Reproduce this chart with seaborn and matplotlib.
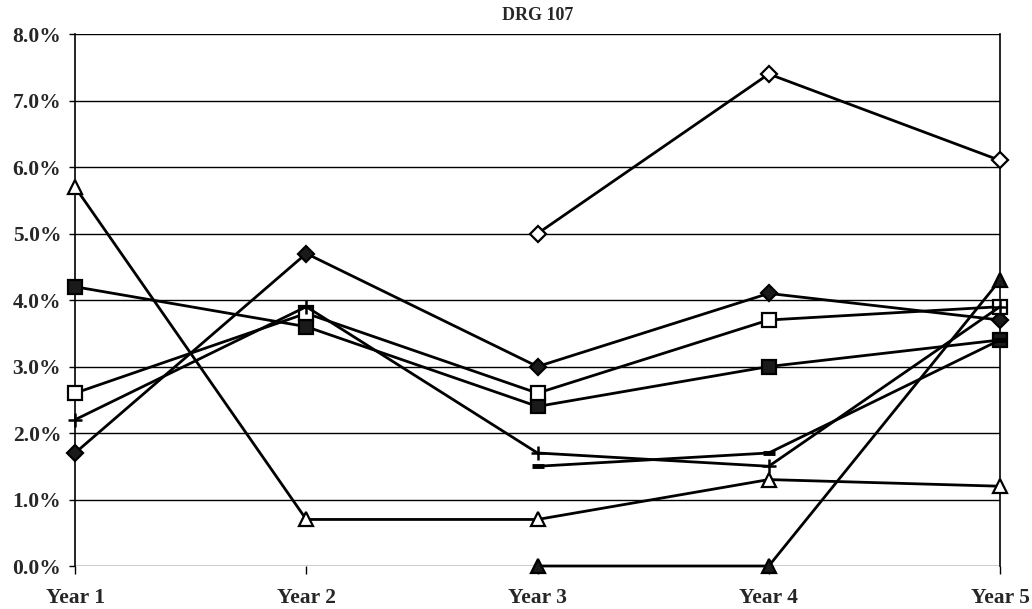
import numpy as np
import pandas as pd
import matplotlib
matplotlib.use("Agg")
import matplotlib.pyplot as plt
from matplotlib.ticker import PercentFormatter
import seaborn as sns

years = ["Year 1", "Year 2", "Year 3", "Year 4", "Year 5"]

filled_diamond = [1.7, 4.7, 3.0, 4.1, 3.7]
open_diamond = [np.nan, np.nan, 5.0, 7.4, 6.1]
filled_square = [4.2, 3.6, 2.4, 3.0, 3.4]
open_square = [2.6, 3.8, 2.6, 3.7, 3.9]
plus_series = [2.2, 3.9, 1.7, 1.5, 3.9]
dash_series = [np.nan, np.nan, 1.5, 1.7, 3.4]
open_triangle = [5.7, 0.7, 0.7, 1.3, 1.2]
filled_triangle = [np.nan, np.nan, 0.0, 0.0, 4.3]

# (values, marker, face colour, marker size, marker edge width)
series = [
    (filled_diamond, "D", "#1a1a1a", 8, 1.6),
    (open_diamond, "D", "white", 8, 1.6),
    (filled_square, "s", "#1a1a1a", 10, 1.6),
    (open_square, "s", "white", 10, 1.6),
    (plus_series, "+", "#1a1a1a", 10, 1.8),
    (dash_series, "_", "#1a1a1a", 9, 3.5),
    (open_triangle, "^", "white", 10, 1.6),
    (filled_triangle, "^", "#1a1a1a", 10, 1.6),
]

sns.set_style("white")
plt.rcParams["font.family"] = ["Liberation Serif", "DejaVu Serif"]

fig = plt.figure(figsize=(10.32, 6.09), dpi=100)
ax = fig.add_axes([0.0727, 0.0706, 0.8963, 0.8734])

for vals, marker, face, size, mew in series:
    df = pd.DataFrame({"year": years, "rate": vals}).dropna()
    sns.lineplot(data=df, x="year", y="rate", ax=ax, color="black",
                 linewidth=2.0, marker=marker, markersize=size,
                 markerfacecolor=face, markeredgecolor="black",
                 markeredgewidth=mew, sort=False, zorder=3, clip_on=False)

ax.set_xlim(0, len(years) - 1)
ax.set_ylim(0, 8)
ax.set_yticks(np.arange(0, 8.01, 1.0))
ax.yaxis.set_major_formatter(PercentFormatter(decimals=1))
ax.grid(axis="y", color="black", linewidth=1.0, zorder=1)
ax.grid(axis="x", visible=False)

for side in ("left", "right"):
    ax.spines[side].set_visible(True)
    ax.spines[side].set_color("black")
    ax.spines[side].set_linewidth(1.2)
for side in ("top", "bottom"):
    ax.spines[side].set_visible(False)

ax.tick_params(axis="x", direction="out", length=6, width=1.0, pad=10,
               labelsize=15.5, color="black", bottom=True)
ax.tick_params(axis="y", direction="out", length=4, width=1.0, pad=6,
               labelsize=15.5, color="black", left=True)
for lab in ax.get_xticklabels() + ax.get_yticklabels():
    lab.set_fontweight("bold")

ax.set_xlabel("")
ax.set_ylabel("")
ax.set_title("DRG 107", fontsize=13, fontweight="bold", pad=10)
if ax.get_legend() is not None:
    ax.get_legend().remove()

fig.savefig("out.png", dpi=100)
